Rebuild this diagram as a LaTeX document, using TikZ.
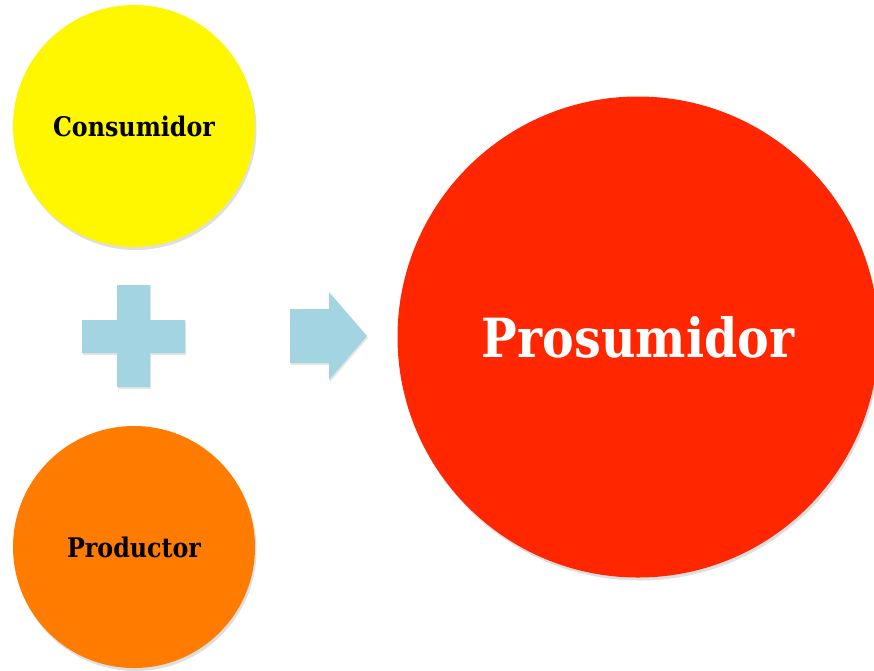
\documentclass[tikz,border=0pt]{standalone}
\usepackage{fontspec}
\setmainfont{DejaVu Serif}[FakeStretch=0.88]
\usetikzlibrary{shadows}
\definecolor{consyellow}{RGB}{255,247,0}
\definecolor{prodorange}{RGB}{255,124,0}
\definecolor{prosred}{RGB}{255,38,0}
\definecolor{signblue}{RGB}{163,212,226}
\tikzset{
  ball/.style={circle,inner sep=0pt,font=\bfseries,
    drop shadow={opacity=0.25,shadow xshift=1.5pt,shadow yshift=-3pt}},
  sign/.style={fill=signblue,
    drop shadow={opacity=0.2,shadow xshift=1pt,shadow yshift=-2pt}}
}

\begin{document}
\begin{tikzpicture}[x=1pt,y=-1pt]
  \useasboundingbox (0,0) rectangle (874,670);
  \node[ball,fill=consyellow,minimum size=242pt] (cons) at (134,126)
    {\fontsize{27}{30}\selectfont Consumidor};
  \node[ball,fill=prodorange,minimum size=242pt] (prod) at (134,547)
    {\fontsize{27}{30}\selectfont Productor};
  \node[ball,fill=prosred,text=white,minimum size=481pt] (pros) at (638,337)
    {\fontsize{54}{60}\selectfont Prosumidor};
  % plus sign
  \path[sign] (117,285) -- (150,285) -- (150,320) -- (185,320) -- (185,353)
    -- (150,353) -- (150,387) -- (117,387) -- (117,353) -- (82,353)
    -- (82,320) -- (117,320) -- cycle;
  % arrow
  \path[sign] (290,309) -- (329,309) -- (329,292) -- (367,336) -- (329,380)
    -- (329,363) -- (290,363) -- cycle;
\end{tikzpicture}
\end{document}
